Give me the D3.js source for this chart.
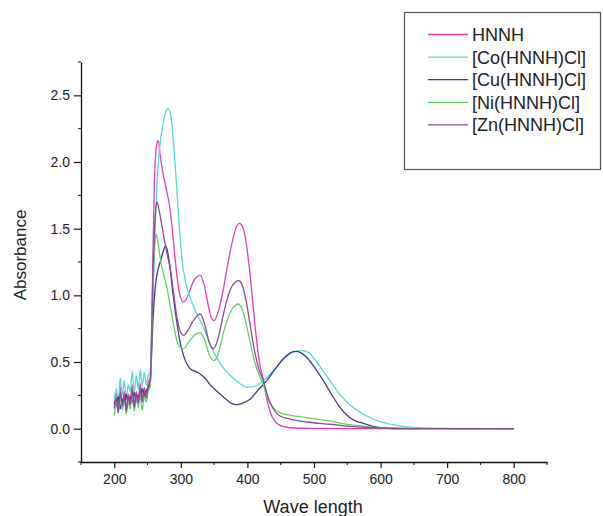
<!DOCTYPE html>
<html>
<head>
<meta charset="utf-8">
<script src="https://cdn.jsdelivr.net/npm/d3@7"></script>
<style>
  body { margin: 0; background: #fff; }
  svg text { font-family: "Liberation Sans", Arial, sans-serif; fill: #222; }
</style>
</head>
<body>
<div id="wrapper"></div>
<script>
// series names and colours
const seriesNames = ["HNNH", "[Co(HNNH)Cl]", "[Cu(HNNH)Cl]", "[Ni(HNNH)Cl]", "[Zn(HNNH)Cl]"];
const seriesColors = ["#e040b8", "#55d8d8", "#3c3c8c", "#66d066", "#8c4c94"];

// [wavelength, absorbance]
const hnnh = [
  [200,0.18],[203,0.27],[206,0.14],[209,0.31],[212,0.19],[215,0.28],[218,0.15],[221,0.26],[224,0.21],
  [227,0.33],[230,0.18],[233,0.28],[236,0.22],[239,0.34],[242,0.23],[245,0.31],[248,0.25],[251,0.35],
  [254,0.38],[256,0.7],[258,1.3],[260,1.8],[262,2.05],[264,2.14],[266,2.16],[269,2.05],[273,1.92],
  [278,1.8],[284,1.64],[289,1.4],[294,1.15],[299,0.99],[304,0.95],[310,0.99],[316,1.07],[322,1.13],
  [329,1.15],[335,1.08],[341,0.93],[346,0.83],[350,0.81],[355,0.86],[362,1.0],[370,1.22],[378,1.42],
  [384,1.52],[388,1.54],[393,1.51],[398,1.4],[403,1.2],[408,0.95],[413,0.7],[418,0.5],[424,0.36],
  [430,0.2],[436,0.1],[444,0.04],[454,0.015],[470,0.005],[500,0.002],[560,0],[650,0],[800,0]
];
const coHnnh = [
  [200,0.22],[203,0.3],[206,0.2],[209,0.38],[212,0.25],[215,0.36],[218,0.22],[221,0.33],[224,0.28],
  [227,0.43],[230,0.27],[233,0.4],[236,0.3],[239,0.44],[242,0.32],[245,0.42],[248,0.33],[251,0.4],
  [254,0.42],[256,0.6],[258,0.95],[261,1.45],[264,1.82],[268,2.1],[272,2.25],[277,2.37],[281,2.4],
  [285,2.34],[290,2.08],[294,1.79],[298,1.5],[302,1.26],[308,1.08],[314,0.98],[324,0.86],[334,0.76],
  [342,0.66],[349,0.58],[360,0.48],[374,0.4],[388,0.34],[400,0.31],[412,0.32],[424,0.36],[440,0.44],
  [456,0.53],[470,0.575],[482,0.585],[492,0.57],[504,0.5],[514,0.43],[524,0.36],[540,0.25],[556,0.17],
  [574,0.11],[590,0.07],[605,0.045],[620,0.028],[640,0.014],[660,0.006],[690,0.002],[720,0],[800,0]
];
const cuHnnh = [
  [200,0.2],[203,0.17],[206,0.24],[209,0.15],[212,0.22],[215,0.19],[218,0.26],[221,0.18],[224,0.24],
  [227,0.2],[230,0.27],[233,0.2],[236,0.25],[239,0.22],[242,0.3],[245,0.24],[248,0.29],[251,0.3],
  [254,0.34],[256,0.55],[258,0.8],[260,0.97],[263,1.12],[266,1.2],[269,1.25],[273,1.32],[277,1.37],
  [280,1.33],[284,1.2],[288,1.02],[293,0.83],[298,0.67],[304,0.55],[314,0.45],[322,0.43],[329,0.41],
  [336,0.38],[344,0.33],[352,0.29],[359,0.26],[368,0.22],[376,0.19],[384,0.18],[392,0.19],[404,0.22],
  [416,0.29],[429,0.36],[442,0.45],[455,0.53],[465,0.57],[472,0.58],[480,0.57],[490,0.53],[502,0.45],
  [514,0.36],[526,0.26],[539,0.16],[552,0.09],[564,0.055],[574,0.04],[590,0.015],[605,0.005],[630,0.001],[800,0]
];
const niHnnh = [
  [200,0.1],[203,0.2],[206,0.12],[209,0.24],[212,0.14],[215,0.22],[218,0.11],[221,0.2],[224,0.15],
  [227,0.26],[230,0.13],[233,0.22],[236,0.16],[239,0.25],[242,0.14],[245,0.24],[248,0.2],[251,0.28],
  [254,0.32],[256,0.65],[258,1.05],[260,1.32],[262,1.44],[263,1.46],[266,1.38],[270,1.25],[275,1.14],
  [279,1.06],[284,0.92],[289,0.78],[294,0.66],[299,0.61],[304,0.6],[312,0.65],[320,0.7],[329,0.72],
  [336,0.66],[343,0.55],[350,0.51],[356,0.56],[364,0.72],[374,0.87],[382,0.925],[386,0.935],[391,0.91],
  [397,0.81],[404,0.65],[411,0.5],[418,0.4],[424,0.33],[431,0.22],[438,0.16],[449,0.12],[465,0.1],
  [489,0.083],[510,0.068],[524,0.058],[540,0.042],[556,0.029],[574,0.018],[600,0.007],[650,0.002],[800,0]
];
const znHnnh = [
  [200,0.15],[203,0.23],[206,0.12],[209,0.27],[212,0.17],[215,0.25],[218,0.13],[221,0.24],[224,0.18],
  [227,0.29],[230,0.16],[233,0.26],[236,0.19],[239,0.3],[242,0.2],[245,0.28],[248,0.23],[251,0.32],
  [254,0.36],[256,0.7],[258,1.15],[260,1.45],[262,1.63],[264,1.7],[268,1.62],[274,1.45],[279,1.32],
  [284,1.2],[289,1.02],[294,0.84],[299,0.73],[304,0.7],[312,0.75],[320,0.82],[329,0.86],[336,0.78],
  [343,0.64],[349,0.6],[355,0.66],[364,0.86],[374,1.04],[382,1.1],[387,1.11],[392,1.08],[398,0.96],
  [404,0.78],[410,0.6],[417,0.45],[424,0.36],[432,0.22],[440,0.14],[449,0.095],[465,0.07],[490,0.05],
  [524,0.033],[560,0.015],[600,0.005],[650,0.001],[800,0]
];
const seriesData = [hnnh, coHnnh, cuHnnh, niHnnh, znHnnh];

const xTicks = [200, 300, 400, 500, 600, 700, 800];
const yTicks = [0.0, 0.5, 1.0, 1.5, 2.0, 2.5];

const dimensions = {
  width: 603,
  height: 516,
  margin: { top: 62, right: 56, bottom: 54, left: 81 },
};
dimensions.boundedWidth = dimensions.width - dimensions.margin.left - dimensions.margin.right;
dimensions.boundedHeight = dimensions.height - dimensions.margin.top - dimensions.margin.bottom;

const svg = d3.select("#wrapper").append("svg")
  .attr("width", dimensions.width)
  .attr("height", dimensions.height);

const bounds = svg.append("g")
  .attr("transform", `translate(${dimensions.margin.left},${dimensions.margin.top})`);

const xScale = d3.scaleLinear().domain([150, 850]).range([0, dimensions.boundedWidth]);
const yScale = d3.scaleLinear().domain([-0.25, 2.75]).range([dimensions.boundedHeight, 0]);

// curves
const lineGen = d3.line()
  .x(d => xScale(d[0]))
  .y(d => yScale(d[1]))
  .curve(d3.curveMonotoneX);

bounds.selectAll(".spectrum")
  .data(seriesData)
  .join("path")
  .attr("class", "spectrum")
  .attr("fill", "none")
  .attr("stroke", (d, i) => seriesColors[i])
  .attr("stroke-width", 1.3)
  .attr("d", lineGen);

// axes
const xMinor = d3.range(150, 851, 50).filter(v => v % 100 !== 0);
const yMinor = d3.range(-0.25, 2.76, 0.5);

const xAxis = bounds.append("g")
  .attr("transform", `translate(0,${dimensions.boundedHeight})`)
  .call(d3.axisBottom(xScale).tickValues(xTicks).tickSize(6).tickPadding(6).tickSizeOuter(0));
xAxis.append("g").selectAll("line")
  .data(xMinor).join("line")
  .attr("x1", d => xScale(d)).attr("x2", d => xScale(d))
  .attr("y1", 0).attr("y2", 3).attr("stroke", "#111");

const yAxis = bounds.append("g")
  .call(d3.axisLeft(yScale).tickValues(yTicks).tickFormat(d3.format(".1f")).tickSize(7).tickPadding(4).tickSizeOuter(0));
yAxis.append("g").selectAll("line")
  .data(yMinor).join("line")
  .attr("y1", d => yScale(d)).attr("y2", d => yScale(d))
  .attr("x1", 0).attr("x2", -3).attr("stroke", "#111");

[xAxis, yAxis].forEach(a => {
  a.select(".domain").attr("stroke", "#111").attr("stroke-width", 1.3);
  a.selectAll(".tick line").attr("stroke", "#111").attr("stroke-width", 1.2);
  a.selectAll(".tick text").style("font-size", "14px").style("font-family", "Liberation Sans, Arial, sans-serif").attr("fill", "#222");
});

svg.append("text")
  .attr("x", 313).attr("y", 513)
  .attr("text-anchor", "middle")
  .style("font-size", "18px")
  .text("Wave length");

svg.append("text")
  .attr("transform", "translate(26,255) rotate(-90)")
  .attr("text-anchor", "middle")
  .style("font-size", "17px")
  .text("Absorbance");

// legend
const legend = svg.append("g");
legend.append("rect")
  .attr("x", 404.5).attr("y", 12.5)
  .attr("width", 196).attr("height", 157)
  .attr("fill", "#fff").attr("stroke", "#555").attr("stroke-width", 1.2);

const rows = legend.selectAll(".row")
  .data(seriesNames).join("g")
  .attr("class", "row")
  .attr("transform", (d, i) => `translate(0,${34.5 + i * 22.6})`);
rows.append("line")
  .attr("x1", 428).attr("x2", 468)
  .attr("stroke", (d, i) => seriesColors[i]).attr("stroke-width", 1.3);
rows.append("text")
  .attr("x", 472).attr("y", 6.5)
  .style("font-size", "18px")
  .text(d => d);
</script>
</body>
</html>
